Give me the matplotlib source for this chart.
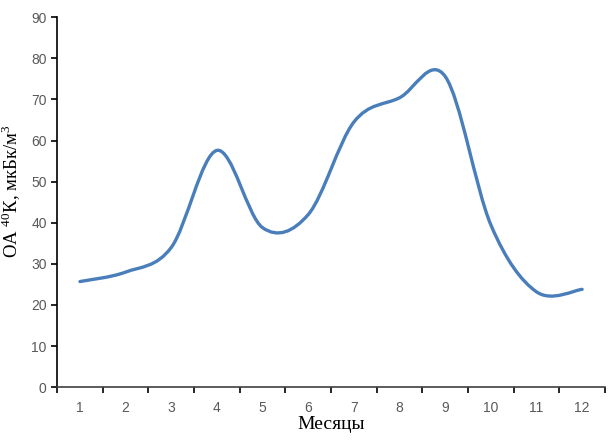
import numpy as np
import matplotlib
matplotlib.use("Agg")
import matplotlib.pyplot as plt
from matplotlib.path import Path
from matplotlib.patches import PathPatch

months = [1, 2, 3, 4, 5, 6, 7, 8, 9, 10, 11, 12]
month_labels = [str(m) for m in months]
oa_k40 = [25.7, 28.0, 34.0, 57.6, 38.8, 42.0, 64.5, 70.4, 75.6, 39.5, 23.2, 23.8]

plt.rcParams['mathtext.fontset'] = 'custom'
plt.rcParams['mathtext.rm'] = 'Liberation Serif'


def excel_smooth_path(x, y):
    # Bezier segments like Excel's "smoothed line"
    x = np.asarray(x, float)
    y = np.asarray(y, float)
    n = len(x)
    verts = [(x[0], y[0])]
    codes = [Path.MOVETO]
    for i in range(n - 1):
        x0, y0 = (x[i - 1], y[i - 1]) if i > 0 else (x[i], y[i])
        x3, y3 = (x[i + 2], y[i + 2]) if i + 2 < n else (x[i + 1], y[i + 1])
        c1 = (x[i] + (x[i + 1] - x0) / 6, y[i] + (y[i + 1] - y0) / 6)
        c2 = (x[i + 1] - (x3 - x[i]) / 6, y[i + 1] - (y3 - y[i]) / 6)
        verts += [c1, c2, (x[i + 1], y[i + 1])]
        codes += [Path.CURVE4] * 3
    return Path(verts, codes)


fig = plt.figure(figsize=(6.08, 4.41), dpi=100)
ax = fig.add_axes([0.094, 0.122, 0.901, 0.839])

ax.add_patch(PathPatch(excel_smooth_path(months, oa_k40), facecolor='none',
                       edgecolor='#4a7ebb', linewidth=2.4, capstyle='round'))

ax.set_xlim(0.5, 12.5)
ax.set_ylim(0, 90)
ax.set_yticks(np.arange(0, 91, 10))
ax.set_xticks(months)
ax.set_xticklabels(month_labels)
ax.set_xticks(np.arange(0.5, 12.6, 1), minor=True)

for s in ['top', 'right']:
    ax.spines[s].set_visible(False)
ax.spines['left'].set_color('black')
ax.spines['left'].set_linewidth(1.2)
ax.spines['bottom'].set_color('#404040')
ax.spines['bottom'].set_linewidth(1.2)

ax.tick_params(axis='x', which='major', length=0, pad=10,
               labelsize=10, labelcolor='#595959')
ax.tick_params(axis='x', which='minor', length=4, width=1.2, color='black')
ax.tick_params(axis='y', length=4, width=1.2, color='black',
               labelsize=10, labelcolor='#595959')
for lab in ax.get_xticklabels() + ax.get_yticklabels():
    lab.set_family('Liberation Sans')

ax.set_xlabel('Месяцы', family='Liberation Serif', fontsize=14, labelpad=1)
ax.set_ylabel('ОА $^{40}$К, мкБк/м$^{3}$', family='Liberation Serif',
              fontsize=13.5)
ax.yaxis.set_label_coords(-0.062, 0.53)

fig.savefig('out.png', dpi=100)
